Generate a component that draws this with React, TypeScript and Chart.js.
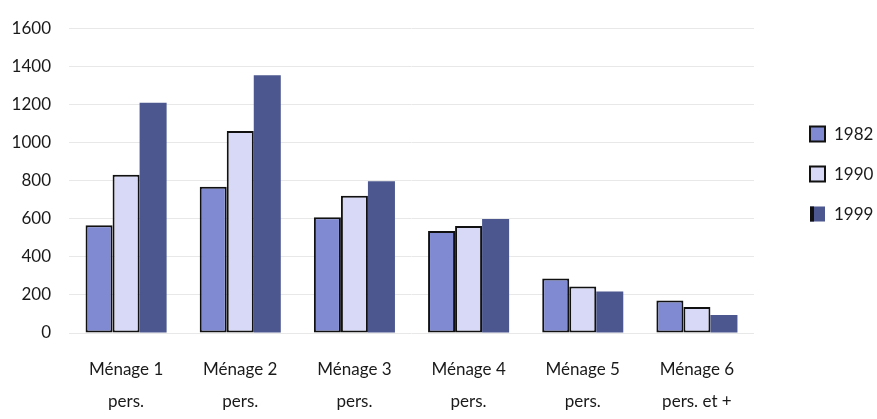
import React, { useEffect, useRef } from "react";
import { Chart, registerables } from "chart.js";

Chart.register(...registerables);

const categories: string[][] = [
  ["Ménage 1", "pers."],
  ["Ménage 2", "pers."],
  ["Ménage 3", "pers."],
  ["Ménage 4", "pers."],
  ["Ménage 5", "pers."],
  ["Ménage 6", "pers. et +"],
];
const seriesNames = ["1982", "1990", "1999"];
const values1982 = [565, 768, 608, 535, 286, 171];
const values1990 = [831, 1061, 721, 562, 244, 136];
const values1999 = [1209, 1353, 797, 599, 218, 94];
const yTicks = [0, 200, 400, 600, 800, 1000, 1200, 1400, 1600];

const FONT = "Lato, 'Open Sans', sans-serif";
const fills = ["#7f8ad2", "#d8d9f6", "#4b578e"];
const borders = ["#111111", "#111111", "#4b578e"];
const borderWidths = [2, 2, 0];

const legendPlugin = {
  id: "customLegend",
  afterDraw(chart: any) {
    const ctx = chart.ctx;
    ctx.save();
    ctx.font = `17px ${FONT}`;
    ctx.textBaseline = "middle";
    ctx.textAlign = "left";
    chart.data.datasets.forEach((ds: any, i: number) => {
      const cy = 134 + i * 40;
      const bx = 810;
      const size = 15;
      ctx.fillStyle = ds.backgroundColor;
      ctx.fillRect(bx, cy - size / 2, size, size);
      if (i < 2) {
        ctx.strokeStyle = "#111";
        ctx.lineWidth = 2;
        ctx.strokeRect(bx, cy - size / 2, size, size);
      } else {
        ctx.fillStyle = "#111";
        ctx.fillRect(bx, cy - size / 2, 4, size);
      }
      ctx.fillStyle = "#1a1a1a";
      ctx.fillText(ds.label, bx + 24, cy + 1);
    });
    ctx.restore();
  },
};

export default function App() {
  const ref = useRef<HTMLCanvasElement>(null);
  useEffect(() => {
    if (!ref.current) return;
    const data = [values1982, values1990, values1999];
    const chart = new Chart(ref.current, {
      type: "bar",
      data: {
        labels: categories,
        datasets: seriesNames.map((name, i) => ({
          label: name,
          data: data[i],
          backgroundColor: fills[i],
          borderColor: borders[i],
          borderWidth: borderWidths[i],
          borderSkipped: false,
          barPercentage: 1,
          categoryPercentage: 0.71,
        })),
      },
      options: {
        responsive: false,
        animation: false,
        layout: { padding: { top: 18, right: 123, left: 0, bottom: 0 } },
        plugins: { legend: { display: false }, tooltip: { enabled: false } },
        scales: {
          x: {
            grid: { display: false, drawTicks: false },
            border: { display: false },
            ticks: {
              color: "#1a1a1a",
              padding: 21,
              font: { family: FONT, size: 17, lineHeight: 1.88 },
            },
            afterFit: (s: any) => {
              s.height = 86;
            },
          },
          y: {
            min: 0,
            max: 1600,
            afterBuildTicks: (s: any) => {
              s.ticks = yTicks.map((v) => ({ value: v }));
            },
            grid: { color: "#e8e8e8", drawTicks: false },
            border: { display: false },
            ticks: {
              color: "#1a1a1a",
              padding: 18,
              font: { family: FONT, size: 17 },
              callback: (v: any) => String(v),
            },
            afterFit: (s: any) => {
              s.width = 69;
            },
          },
        },
      },
      plugins: [legendPlugin],
    });
    return () => chart.destroy();
  }, []);
  return (
    <div style={{ position: "fixed", left: 0, top: 0, width: 877, height: 419, background: "#fff" }}>
      <canvas ref={ref} width={877} height={419} />
    </div>
  );
}
